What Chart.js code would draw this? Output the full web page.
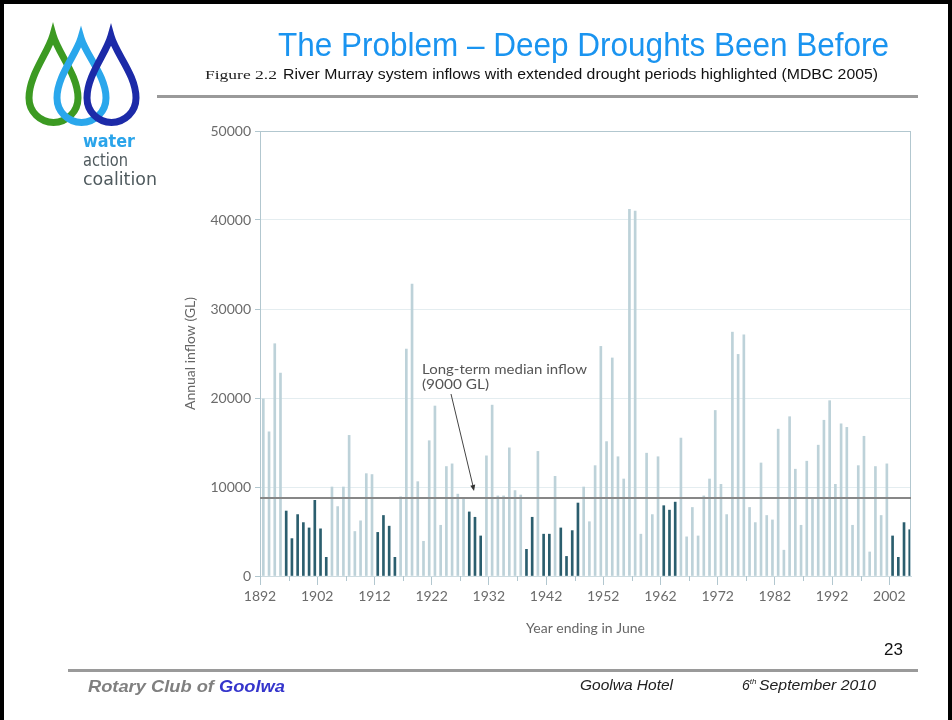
<!DOCTYPE html>
<html>
<head>
<meta charset="utf-8">
<script src="https://cdn.jsdelivr.net/npm/chart.js@4.4.1/dist/chart.umd.min.js"></script>
<style>
  html, body { margin: 0; padding: 0; background: #fff; }
  #slide { position: relative; width: 952px; height: 720px; overflow: hidden; background: #fff; }
  #wrap { position: absolute; left: 170px; top: 115px; width: 750px; height: 530px; }
  #overlay { position: absolute; left: 0; top: 0; width: 952px; height: 720px; pointer-events: none; }
</style>
</head>
<body>
<div id="slide">
  <div id="wrap"><canvas id="chart"></canvas></div>

  <svg id="overlay" viewBox="0 0 952 720" xmlns="http://www.w3.org/2000/svg">
    <!-- slide frame -->
    <rect x="0" y="0" width="952" height="4" fill="#000"/>
    <rect x="0" y="0" width="4" height="720" fill="#000"/>
    <rect x="948" y="0" width="4" height="720" fill="#000"/>

    <!-- logo drops -->
    <g fill="none" stroke-width="7" stroke-linejoin="miter">
      <path stroke="#3c9a22" d="M53,35 C58,53 78,75 78,98 A24.5,24.5 0 0 1 29,98 C29,75 48,53 53,35 Z"/>
      <path stroke="#2aa7ec" d="M81,38 C86,55 106,76 106,98 A24.5,24.5 0 0 1 57,98 C57,76 76,55 81,38 Z"/>
      <path stroke="#1c2aa8" d="M111,36 C116,54 136,75 136,98 A24.5,24.5 0 0 1 87,98 C87,75 106,54 111,36 Z"/>
    </g>
    <text x="83" y="147" font-family="DejaVu Sans" font-weight="bold" font-size="17" fill="#2aa4ea" textLength="52" lengthAdjust="spacingAndGlyphs">water</text>
    <text x="83" y="166" font-family="DejaVu Sans" font-size="17" fill="#4f5a5e" textLength="45" lengthAdjust="spacingAndGlyphs">action</text>
    <text x="83" y="185" font-family="DejaVu Sans" font-size="17" fill="#4f5a5e" textLength="74" lengthAdjust="spacingAndGlyphs">coalition</text>

    <!-- header -->
    <text x="278" y="56" font-family="Liberation Sans" font-size="34" fill="#1a94f0" textLength="611" lengthAdjust="spacingAndGlyphs">The Problem – Deep Droughts Been Before</text>
    <text x="205" y="79" font-family="Liberation Serif" font-size="13" fill="#222" textLength="72" lengthAdjust="spacingAndGlyphs">Figure 2.2</text>
    <text x="283" y="79" font-family="Liberation Sans" font-size="14" fill="#111" textLength="595" lengthAdjust="spacingAndGlyphs">River Murray system inflows with extended drought periods highlighted (MDBC 2005)</text>
    <rect x="157" y="95" width="761" height="3" fill="#9a9a9a"/>

    <!-- median annotation -->
    <text x="422" y="374" font-family="Lato" font-size="13" fill="#555" textLength="165" lengthAdjust="spacingAndGlyphs">Long-term median inflow</text>
    <text x="422" y="389" font-family="Lato" font-size="13" fill="#555" textLength="67" lengthAdjust="spacingAndGlyphs">(9000 GL)</text>
    <line x1="451" y1="394" x2="473" y2="486" stroke="#444" stroke-width="1"/>
    <polygon points="474,491 475.2,484.6 470.3,485.8" fill="#333"/>

    <!-- footer -->
    <text x="884" y="655" font-family="Liberation Sans" font-size="17" fill="#111">23</text>
    <rect x="68" y="669" width="850" height="3" fill="#9a9a9a"/>
    <text x="88" y="692" font-family="Liberation Sans" font-style="italic" font-weight="bold" font-size="16" fill="#808080" textLength="197" lengthAdjust="spacingAndGlyphs">Rotary Club of <tspan fill="#3535cc">Goolwa</tspan></text>
    <text x="580" y="690" font-family="Liberation Sans" font-style="italic" font-size="14" fill="#222" textLength="93" lengthAdjust="spacingAndGlyphs">Goolwa Hotel</text>
    <text x="742" y="690" font-family="Liberation Sans" font-style="italic" font-size="14" fill="#222">6<tspan font-size="8" dy="-6">th</tspan></text>
    <text x="759" y="690" font-family="Liberation Sans" font-style="italic" font-size="14" fill="#222" textLength="117" lengthAdjust="spacingAndGlyphs">September 2010</text>
  </svg>
</div>

<script>
// Annual River Murray inflows (GL), year ending in June, 1892-2005
const FIRST_YEAR = 1892;
const INFLOW = [
  19900, 16200, 26100, 22800, 7300, 4200, 6900, 6000, 5400, 8500,   // 1892-1901
  5300, 2100, 10000, 7800, 10000, 15800, 5000, 6200, 11500, 11400,  // 1902-1911
  4900, 6800, 5600, 2100, 8900, 25500, 32800, 10600, 3900, 15200,   // 1912-1921
  19100, 5700, 12300, 12600, 9200, 8800, 7200, 6600, 4500, 13500,   // 1922-1931
  19200, 9000, 9000, 14400, 9600, 9100, 3000, 6600, 14000, 4700,    // 1932-1941
  4700, 11200, 5400, 2200, 5100, 8200, 10000, 6100, 12400, 25800,   // 1942-1951
  15100, 24500, 13400, 10900, 41200, 41000, 4700, 13800, 6900, 13400, // 1952-1961
  7900, 7400, 8300, 15500, 4400, 7700, 4500, 9000, 10900, 18600,    // 1962-1971
  10300, 6900, 27400, 24900, 27100, 7700, 6000, 12700, 6800, 6300,  // 1972-1981
  16500, 2900, 17900, 12000, 5700, 12900, 8700, 14700, 17500, 19700, // 1982-1991
  10300, 17100, 16700, 5700, 12400, 15700, 2700, 12300, 6800, 12600, // 1992-2001
  4500, 2100, 6000, 5200                                            // 2002-2005
];
const YEARS = INFLOW.map((_, i) => FIRST_YEAR + i);

// extended drought periods (dark bars)
const DROUGHT_YEARS = [
  1896, 1897, 1898, 1899, 1900, 1901, 1902, 1903,
  1912, 1913, 1914, 1915,
  1928, 1929, 1930,
  1938, 1939, 1941, 1942, 1944, 1945, 1946, 1947,
  1962, 1963, 1964,
  2002, 2003, 2004, 2005
];

const MEDIAN_LINE = 8750;
const MAJOR_TICKS = [1892, 1902, 1912, 1922, 1932, 1942, 1952, 1962, 1972, 1982, 1992, 2002];
const MINOR_TICKS = [1897, 1907, 1917, 1927, 1937, 1947, 1957, 1967, 1977, 1987, 1997];
const Y_TICKS = [0, 10000, 20000, 30000, 40000, 50000];

const BAR_OFFSET = 0.58;   // bar sits just right of the year tick
const COLOR_LIGHT = '#bdd2d9';
const COLOR_DARK = '#2b5e6e';
const AXIS_COLOR = '#b2c7cf';
const TEXT_COLOR = '#6b6b6b';
const FONT = { family: 'Lato', size: 14 };

// extra lines: right frame, median line, minor ticks
const decorPlugin = {
  id: 'decor',
  afterDatasetsDraw(chart) {
    const { ctx, chartArea: a, scales: { x, y } } = chart;
    ctx.save();
    ctx.strokeStyle = AXIS_COLOR;
    ctx.lineWidth = 1;
    ctx.beginPath();
    ctx.moveTo(a.right - 0.5, a.top);
    ctx.lineTo(a.right - 0.5, a.bottom);
    ctx.stroke();

    const my = Math.round(y.getPixelForValue(MEDIAN_LINE));
    ctx.strokeStyle = '#878787';
    ctx.lineWidth = 2;
    ctx.beginPath();
    ctx.moveTo(a.left, my);
    ctx.lineTo(a.right, my);
    ctx.stroke();

    ctx.strokeStyle = AXIS_COLOR;
    ctx.lineWidth = 1;
    MINOR_TICKS.forEach(v => {
      const px = Math.round(x.getPixelForValue(v)) + 0.5;
      ctx.beginPath();
      ctx.moveTo(px, a.bottom);
      ctx.lineTo(px, a.bottom + 5);
      ctx.stroke();
    });
    ctx.restore();
  }
};

const ctx = document.getElementById('chart').getContext('2d');
new Chart(ctx, {
  type: 'bar',
  data: {
    datasets: [{
      label: 'Annual inflow (GL)',
      data: YEARS.map((yr, i) => ({ x: yr + BAR_OFFSET, y: INFLOW[i] })),
      backgroundColor: YEARS.map(yr => DROUGHT_YEARS.includes(yr) ? COLOR_DARK : COLOR_LIGHT),
      borderWidth: 0,
      barThickness: 2
    }]
  },
  options: {
    responsive: true,
    maintainAspectRatio: false,
    animation: false,
    layout: { padding: { top: 16, right: 9, left: 0, bottom: 5 } },
    plugins: {
      legend: { display: false },
      tooltip: { enabled: false }
    },
    scales: {
      x: {
        type: 'linear',
        min: FIRST_YEAR,
        max: 2005.8,
        offset: false,
        afterBuildTicks: s => { s.ticks = MAJOR_TICKS.map(v => ({ value: v })); },
        afterFit: s => { s.height = 64; },
        grid: { drawOnChartArea: false, drawTicks: true, tickLength: 9, tickColor: AXIS_COLOR, offset: false },
        border: { color: '#cddbe0' },
        ticks: { padding: 3, font: FONT, color: TEXT_COLOR, maxRotation: 0, autoSkip: false, callback: v => String(v) },
        title: { display: true, text: 'Year ending in June', font: FONT, color: '#666', padding: { top: 0, bottom: 3 } }
      },
      y: {
        min: 0,
        max: 50000,
        afterBuildTicks: s => { s.ticks = Y_TICKS.map(v => ({ value: v })); },
        afterFit: s => { s.width = 90; },
        grid: {
          color: c => c.tick.value === 50000 ? AXIS_COLOR : (c.tick.value === 0 ? 'rgba(0,0,0,0)' : '#e4edf0'),
          tickLength: 5,
          tickColor: AXIS_COLOR
        },
        border: { color: AXIS_COLOR },
        ticks: { padding: 4, font: FONT, color: TEXT_COLOR, callback: v => String(v) },
        title: { display: true, text: 'Annual inflow (GL)', font: FONT, color: '#666', padding: { top: 12, bottom: 0 } }
      }
    }
  },
  plugins: [decorPlugin]
});
</script>
</body>
</html>
